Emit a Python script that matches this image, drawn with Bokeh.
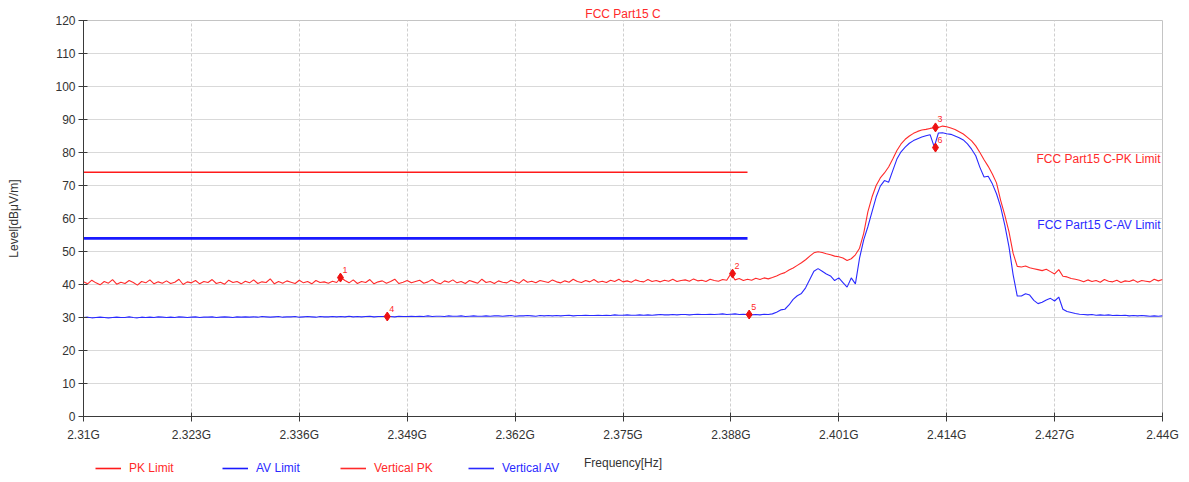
import numpy as np
from bokeh.plotting import figure
from bokeh.layouts import column
from bokeh.models import FixedTicker, Legend, LegendItem, Label, ColumnDataSource
from bokeh.core.properties import value
from bokeh.embed import file_html
from bokeh.resources import INLINE

# ---------------- data ----------------
freq_start_mhz = 2310.0
freq_step_mhz = 0.5

vertical_pk = [
    40.8, 40.2, 41.3, 40.5, 39.9, 40.9, 40.4, 41.5, 40.1, 40.7, 40.3, 41.2, 40.6, 39.8, 40.9, 40.5, 41.4, 40.2, 40.8, 40.4,
    41.1, 40.3, 40.7, 41.6, 40.0, 40.8, 40.5, 41.2, 40.2, 40.9, 40.6, 41.5, 40.3, 40.7, 40.1, 41.3, 40.6, 40.9, 40.2, 41.0,
    40.5, 41.4, 40.3, 40.8, 40.6, 41.7, 40.2, 40.9, 40.4, 41.1, 40.7, 40.3, 41.3, 40.5, 40.9, 40.2, 41.2, 40.6, 40.8, 40.4,
    41.0, 40.6, 42.1, 41.2, 40.5, 41.4, 40.3, 40.9, 40.6, 41.5, 40.2, 40.8, 41.1, 40.4, 40.9, 41.6, 40.3, 40.7, 41.2, 40.5,
    40.9, 41.3, 40.4, 40.8, 41.5, 40.6, 40.2, 41.1, 40.7, 41.4, 40.5, 40.9, 40.3, 41.2, 40.8, 40.4, 41.6, 40.6, 40.9, 40.3,
    41.1, 40.7, 40.5, 41.3, 40.8, 40.4, 41.5, 40.7, 41.0, 40.5, 41.2, 40.9, 40.6, 41.4, 40.8, 40.5, 41.1, 40.7, 41.6, 40.9,
    40.6, 41.2, 40.8, 41.5, 40.7, 41.0, 40.6, 41.3, 40.9, 41.6, 40.8, 41.1, 40.7, 41.4, 41.0, 40.8, 41.5, 40.9, 41.2, 40.8,
    41.3, 41.0, 41.6, 40.9, 41.2, 41.4, 41.0, 41.7, 41.1, 41.3, 40.9, 41.6, 41.2, 41.0, 41.5, 41.3, 43.3, 41.4, 41.8, 41.2,
    41.6, 41.3, 41.9, 41.5, 42.0, 41.7, 42.1, 42.6, 43.2, 43.6,
    44.4, 45.0, 45.8, 46.6, 47.5, 48.6, 49.6, 49.9, 49.7, 49.3,
    49.0, 48.6, 48.4, 48.0, 47.3, 47.8, 49.0, 51.0, 55.5, 62.0,
    66.5, 70.0, 72.3, 73.8, 75.6, 78.0, 80.6, 82.6, 84.0, 85.0,
    85.8, 86.4, 86.8, 87.0, 87.3, 87.5, 87.6, 88.0, 87.8, 87.4,
    87.0, 86.3, 85.6, 84.6, 83.5, 82.0, 80.0, 77.8, 75.8, 73.5,
    70.8, 65.5, 61.0, 56.0, 49.5, 45.5, 45.3, 45.6, 45.1, 44.8,
    44.5, 44.2, 44.6, 43.9, 43.2, 44.5, 42.5, 42.3, 41.8, 41.6,
    41.3,
    40.8, 41.4, 40.9, 41.2, 40.7, 41.5, 41.0, 40.8, 41.3, 40.6, 41.1, 40.9, 41.4, 40.7, 41.2, 41.0, 40.8, 41.6, 41.1, 41.5,
]

vertical_av = [
    30.0, 30.1, 29.9, 30.0, 30.1, 30.0, 29.9, 30.0, 30.1, 30.0, 30.0, 30.2, 30.0, 29.9, 30.1, 30.0, 30.1, 30.0, 30.2, 30.1,
    30.0, 30.1, 30.0, 30.2, 30.1, 30.0, 30.1, 30.2, 30.0, 30.1, 30.1, 30.2, 30.0, 30.1, 30.2, 30.1, 30.0, 30.2, 30.1, 30.2,
    30.1, 30.2, 30.1, 30.3, 30.2, 30.1, 30.2, 30.3, 30.1, 30.2, 30.2, 30.3, 30.1, 30.2, 30.3, 30.2, 30.1, 30.3, 30.2, 30.2,
    30.3, 30.2, 30.3, 30.2, 30.4, 30.2, 30.3, 30.2, 30.3, 30.4, 30.2, 30.3, 30.3, 30.4, 30.3, 30.2, 30.4, 30.3, 30.3, 30.4,
    30.3, 30.4, 30.3, 30.5, 30.3, 30.4, 30.4, 30.3, 30.5, 30.4, 30.4, 30.5, 30.3, 30.4, 30.5, 30.4, 30.4, 30.5, 30.4, 30.5,
    30.5, 30.4, 30.5, 30.6, 30.4, 30.5, 30.5, 30.6, 30.5, 30.4, 30.6, 30.5, 30.6, 30.5, 30.6, 30.5, 30.6, 30.7, 30.5, 30.6,
    30.6, 30.7, 30.6, 30.6, 30.7, 30.6, 30.7, 30.6, 30.8, 30.7, 30.7, 30.8, 30.7, 30.7, 30.8, 30.7, 30.8, 30.7, 30.8, 30.9,
    30.8, 30.8, 30.9, 30.8, 30.9, 30.9, 30.8, 30.9, 31.0, 30.9, 30.9, 31.0, 30.9, 31.0, 31.1, 30.9, 31.0, 31.1, 30.9, 31.0,
    30.9, 30.8, 30.9, 30.8, 31.0, 30.9, 31.1, 31.6, 32.3, 32.5,
    33.8, 35.5, 36.6, 37.3, 39.0, 41.5, 44.0, 44.8, 44.0, 43.2,
    42.6, 41.2, 42.0, 40.6, 39.2, 42.0, 40.2, 48.0, 53.5, 57.5,
    62.0, 66.5, 69.8, 71.5, 71.0, 74.5, 78.0, 80.2, 81.6, 82.8,
    83.6, 84.2, 84.7, 85.1, 85.4, 81.7, 85.9, 86.0, 85.7, 85.5,
    85.0, 84.5, 83.8, 82.6, 81.0, 79.0, 75.5, 72.6, 72.8, 70.5,
    67.5, 63.5, 58.0, 51.5, 43.0, 36.5, 36.5, 37.2, 36.8, 35.2,
    34.2, 34.6, 35.3, 35.8, 35.0, 36.2, 32.5, 31.8, 31.5, 31.2,
    31.0,
    30.9, 30.8, 30.9, 30.7, 30.8, 30.7, 30.8, 30.6, 30.7, 30.6, 30.7, 30.5, 30.6, 30.5, 30.6, 30.5, 30.4, 30.5, 30.4, 30.5,
]

limit_freq = [2.31, 2.39]
pk_limit = [74, 74]
av_limit = [54, 54]

marker_ids = ["1", "2", "3", "4", "5", "6"]
marker_freq = [2.34096, 2.38820, 2.41265, 2.34660, 2.39020, 2.41265]
marker_level = [42.1, 43.3, 87.6, 30.3, 30.9, 81.5]

x_ticks = [2.310, 2.323, 2.336, 2.349, 2.362, 2.375, 2.388, 2.401, 2.414, 2.427, 2.440]
x_tick_labels = ["2.31G", "2.323G", "2.336G", "2.349G", "2.362G", "2.375G",
                 "2.388G", "2.401G", "2.414G", "2.427G", "2.44G"]
y_ticks = [0, 10, 20, 30, 40, 50, 60, 70, 80, 90, 100, 110, 120]

legend_labels = ["PK Limit", "AV Limit", "Vertical PK", "Vertical AV"]

freq_ghz = (freq_start_mhz + freq_step_mhz * np.arange(len(vertical_pk))) / 1000.0

# ---------------- style ----------------
RED = "#ff2a2a"
BLUE = "#2a2aff"
LIM_RED = "#ff1a1a"
LIM_BLUE = "#1a1aff"
FONT = "Liberation Sans"
W = 1180
LEFT = 83
RIGHT = W - 1162

p = figure(width=W, height=448, x_range=(2.31, 2.44), y_range=(0, 120),
           output_backend="svg", toolbar_location=None,
           min_border_left=LEFT, min_border_right=RIGHT, min_border_bottom=32, min_border_top=20)

p.title.text = "FCC Part15 C"
p.title.align = "center"
p.title.text_color = RED
p.title.text_font = FONT
p.title.text_font_size = "12px"
p.title.text_font_style = "normal"
p.title.standoff = 0

p.outline_line_color = "#c4c4c4"

for ax in (p.xaxis[0], p.yaxis[0]):
    ax.axis_line_color = "#3a3a3a"
    ax.major_tick_line_color = "#3a3a3a"
    ax.minor_tick_line_color = None
    ax.major_tick_in = 4
    ax.major_tick_out = 5
    ax.major_label_text_color = "#333333"
    ax.major_label_text_font = FONT
    ax.major_label_text_font_size = "12px"
    ax.axis_label_text_font = FONT
    ax.axis_label_text_font_size = "12px"
    ax.axis_label_text_font_style = "normal"
    ax.axis_label_text_color = "#333333"

p.xaxis.ticker = FixedTicker(ticks=x_ticks)
p.xaxis.major_label_overrides = {t: l for t, l in zip(x_ticks, x_tick_labels)}
p.xaxis.major_label_standoff = 6

p.yaxis.ticker = FixedTicker(ticks=y_ticks)
p.yaxis.major_label_standoff = 3
p.yaxis.axis_label = "Level[dBμV/m]"
p.yaxis.axis_label_standoff = 31

p.xgrid.ticker = FixedTicker(ticks=x_ticks)
p.xgrid.grid_line_color = "#cfcfcf"
p.xgrid.grid_line_dash = "3 2"
p.ygrid.grid_line_color = "#d9d9d9"

# limit lines
p.line(limit_freq, pk_limit, line_color=LIM_RED, line_width=1.6)
p.line(limit_freq, av_limit, line_color=LIM_BLUE, line_width=2.8)

# traces
src = ColumnDataSource(data=dict(f=freq_ghz, pk=vertical_pk, av=vertical_av))
p.line("f", "pk", source=src, line_color=RED, line_width=1.1)
p.line("f", "av", source=src, line_color=BLUE, line_width=1.1)

# markers
msrc = ColumnDataSource(data=dict(f=marker_freq, v=marker_level, t=marker_ids))
p.scatter("f", "v", source=msrc, marker="diamond", size=9, color="#ee1111")
p.text("f", "v", text="t", source=msrc, x_offset=2, y_offset=-5,
       text_font=value(FONT), text_font_size="9px", text_color=RED,
       text_baseline="bottom", text_align="left")

# limit labels
p.add_layout(Label(x=2.44, y=pk_limit[0], text="FCC Part15 C-PK Limit", text_align="right",
                   text_baseline="bottom", x_offset=-2, y_offset=6, text_color=RED,
                   text_font=FONT, text_font_size="12px"))
p.add_layout(Label(x=2.44, y=av_limit[0], text="FCC Part15 C-AV Limit", text_align="right",
                   text_baseline="bottom", x_offset=-2, y_offset=6, text_color=BLUE,
                   text_font=FONT, text_font_size="12px"))

# ---------------- bottom strip: legend + x-axis title ----------------
p2 = figure(width=W, height=30, x_range=p.x_range, y_range=(0, 1),
            output_backend="svg", toolbar_location=None,
            min_border_left=LEFT, min_border_right=RIGHT, min_border_top=0, min_border_bottom=0)
p2.axis.visible = False
p2.grid.visible = False
p2.outline_line_color = None

nan_src = ColumnDataSource(data=dict(x=[float("nan")], y=[float("nan")]))
leg_r = [
    p2.line("x", "y", source=nan_src, line_color=LIM_RED, line_width=1.6),
    p2.line("x", "y", source=nan_src, line_color=LIM_BLUE, line_width=1.6),
    p2.line("x", "y", source=nan_src, line_color=RED, line_width=1.6),
    p2.line("x", "y", source=nan_src, line_color=BLUE, line_width=1.6),
]
leg_cols = [RED, BLUE, RED, BLUE]
leg_x = [12, 139, 257, 385]
for lab, rend, col, xoff in zip(legend_labels, leg_r, leg_cols, leg_x):
    lg = Legend(items=[LegendItem(label=lab, renderers=[rend], index=0)],
                location=(xoff, 3), orientation="horizontal",
                background_fill_alpha=0, border_line_alpha=0,
                padding=0, margin=0, spacing=0,
                glyph_width=26, glyph_height=12, label_height=12,
                label_standoff=8, label_text_color=col,
                label_text_font=FONT, label_text_font_size="12px")
    p2.add_layout(lg)

p2.add_layout(Label(x=(x_ticks[0] + x_ticks[-1]) / 2, y=16, y_units="screen",
                    text="Frequency[Hz]", text_align="center", text_baseline="middle",
                    text_color="#333333", text_font=FONT, text_font_size="12px"))

layout = column(p, p2, spacing=0)
open("out.html", "w").write(file_html(layout, INLINE))
